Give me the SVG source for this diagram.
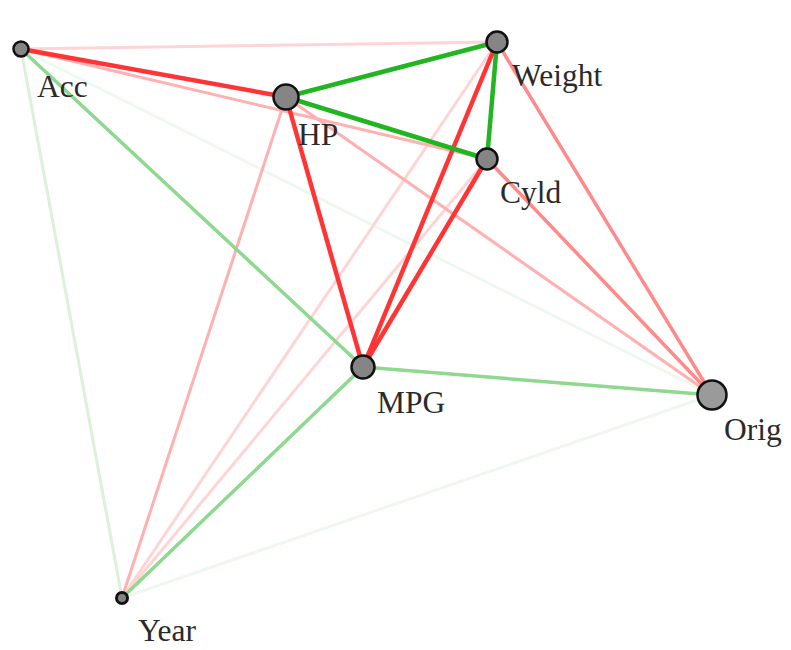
<svg xmlns="http://www.w3.org/2000/svg" width="791" height="650" viewBox="0 0 791 650">
<style>
.e{fill:none;stroke-linecap:round}
.sr{stroke:#ff3535;stroke-width:4.5}
.mr{stroke:#ff8a8a;stroke-width:3.5}
.lr{stroke:#ffb0b0;stroke-width:3}
.pr{stroke:#ffd4d4;stroke-width:3}
.sg{stroke:#22b522;stroke-width:4.5}
.mg{stroke:#8fd88f;stroke-width:3.5}
.pg{stroke:#dcf0dc;stroke-width:3}
.vg{stroke:#eef8ee;stroke-width:3}
.n{fill:#858585;stroke:#111;stroke-width:2.5}
.t{font-family:"Liberation Serif",serif;font-size:31.5px;fill:#2a2a2a}
</style>
<rect width="791" height="650" fill="#fff"/>
<g id="edges">
<line class="e vg" x1="712" y1="395" x2="122" y2="598"/>
<line class="e vg" x1="21" y1="49" x2="712" y2="395"/>
<line class="e pg" x1="21" y1="49" x2="122" y2="598"/>
<line class="e pr" x1="21" y1="49" x2="497" y2="42"/>
<line class="e pr" x1="497" y1="42" x2="122" y2="598"/>
<line class="e pr" x1="487" y1="159" x2="122" y2="598"/>
<line class="e lr" x1="286" y1="97" x2="122" y2="598"/>
<line class="e lr" x1="286" y1="97" x2="712" y2="395"/>
<line class="e lr" x1="21" y1="49" x2="487" y2="159"/>
<line class="e mg" x1="21" y1="49" x2="363" y2="367"/>
<line class="e mg" x1="363" y1="367" x2="712" y2="395"/>
<line class="e mg" x1="363" y1="367" x2="122" y2="598"/>
<line class="e mr" x1="497" y1="42" x2="712" y2="395"/>
<line class="e mr" x1="487" y1="159" x2="712" y2="395"/>
<line class="e sr" x1="21" y1="49" x2="286" y2="97"/>
<line class="e sr" x1="286" y1="97" x2="363" y2="367"/>
<line class="e sr" x1="497" y1="42" x2="363" y2="367"/>
<line class="e sr" x1="487" y1="159" x2="363" y2="367"/>
<line class="e sg" x1="286" y1="97" x2="497" y2="42"/>
<line class="e sg" x1="286" y1="97" x2="487" y2="159"/>
<line class="e sg" x1="497" y1="42" x2="487" y2="159"/>
</g>
<g id="node-acc"><circle class="n" cx="21" cy="49" r="7.5"/><text class="t" x="37" y="97">Acc</text></g>
<g id="node-weight"><circle class="n" cx="497" cy="42" r="10.5"/><text class="t" x="512" y="86">Weight</text></g>
<g id="node-hp"><circle class="n" cx="286" cy="97" r="12.5"/><text class="t" x="298" y="145">HP</text></g>
<g id="node-cyld"><circle class="n" cx="487" cy="159" r="10.5"/><text class="t" x="500" y="203">Cyld</text></g>
<g id="node-mpg"><circle class="n" cx="363" cy="367" r="11.5"/><text class="t" x="377" y="413">MPG</text></g>
<g id="node-orig"><circle class="n" cx="712" cy="395" r="14.5" style="fill:#9a9a9a"/><text class="t" x="724" y="440">Orig</text></g>
<g id="node-year"><circle class="n" cx="122" cy="598" r="5.5" style="stroke-width:3"/><text class="t" x="138" y="641">Year</text></g>
</svg>
